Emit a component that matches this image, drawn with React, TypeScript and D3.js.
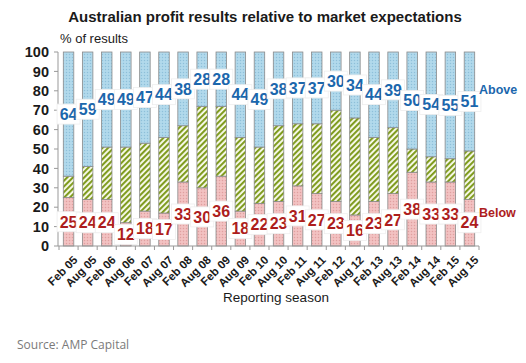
import * as d3 from "d3"

const categories = [
  "Feb 05", "Aug 05", "Feb 06", "Aug 06", "Feb 07", "Aug 07", "Feb 08", "Aug 08",
  "Feb 09", "Aug 09", "Feb 10", "Aug 10", "Feb 11", "Aug 11", "Feb 12", "Aug 12",
  "Feb 13", "Aug 13", "Feb 14", "Aug 14", "Feb 15", "Aug 15",
]
const above = [64, 59, 49, 49, 47, 44, 38, 28, 28, 44, 49, 38, 37, 37, 30, 34, 44, 39, 50, 54, 55, 51]
const below = [25, 24, 24, 12, 18, 17, 33, 30, 36, 18, 22, 23, 31, 27, 23, 16, 23, 27, 38, 33, 33, 24]
const yTicks = [0, 10, 20, 30, 40, 50, 60, 70, 80, 90, 100]

const BLUE_TEXT = "#1b67ad"
const RED_TEXT = "#ad1d1d"

export default function App() {
  const width = 526
  const height = 363

  const x = d3.scaleBand().domain(categories).range([59, 479]).paddingInner(0.45).paddingOuter(0.225)
  const y = d3.scaleLinear().domain([0, 100]).range([246, 52])
  const bw = x.bandwidth()

  const rows = categories.map((c, i) => ({
    cat: c,
    above: above[i],
    below: below[i],
    inline: 100 - above[i] - below[i],
  }))

  return (
    <svg
      width={width}
      height={height}
      style={{ position: "absolute", left: 0, top: 0, background: "#fff" }}
      fontFamily="'Liberation Sans', Arial, sans-serif"
    >
      <defs>
        <pattern id="dotsBlue" width="3" height="3" patternUnits="userSpaceOnUse">
          <rect width="3" height="3" fill="#acd6ea" />
          <rect x="0" y="0" width="1" height="1" fill="#8fbfd8" />
          <rect x="1.5" y="1.5" width="1" height="1" fill="#c4e3f1" />
        </pattern>
        <pattern id="dotsRed" width="3" height="3" patternUnits="userSpaceOnUse">
          <rect width="3" height="3" fill="#f0bcbc" />
          <rect x="0" y="0" width="1" height="1" fill="#dfa0a0" />
          <rect x="1.5" y="1.5" width="1" height="1" fill="#f8d4d4" />
        </pattern>
        <pattern id="hatchGreen" width="4" height="4" patternUnits="userSpaceOnUse" patternTransform="rotate(45)">
          <rect width="4" height="4" fill="#fbfcef" />
          <rect x="0" y="0" width="2.1" height="4" fill="#809c20" />
        </pattern>
      </defs>

      {/* title */}
      <text x={265} y={22} textAnchor="middle" fontSize={15} fontWeight="bold" fill="#1a1a1a">
        Australian profit results relative to market expectations
      </text>
      <text x={60} y={43} fontSize={13} fill="#1a1a1a">
        % of results
      </text>

      {/* y axis */}
      <line x1={58} x2={58} y1={y(100)} y2={y(0)} stroke="#999" />
      {yTicks.map((t) => (
        <g key={t}>
          <line x1={54} x2={58} y1={y(t)} y2={y(t)} stroke="#999" />
          <text x={49} y={y(t)} dy="0.36em" textAnchor="end" fontSize={14.5} fontWeight="bold" fill="#1a1a1a">
            {t}
          </text>
        </g>
      ))}

      {/* bars */}
      {rows.map((d) => {
        const bx = x(d.cat)!
        return (
          <g key={d.cat} stroke="#8a8a8a" strokeWidth={0.8}>
            <rect x={bx} y={y(d.below)} width={bw} height={y(0) - y(d.below)} fill="url(#dotsRed)" />
            <rect x={bx} y={y(d.below + d.inline)} width={bw} height={y(d.below) - y(d.below + d.inline)} fill="url(#hatchGreen)" />
            <rect x={bx} y={y(100)} width={bw} height={y(d.below + d.inline) - y(100)} fill="url(#dotsBlue)" />
          </g>
        )
      })}

      {/* x axis */}
      <line x1={58} x2={479} y1={y(0)} y2={y(0)} stroke="#999" />
      {d3.range(categories.length + 1).map((i) => {
        const tx = 59 + i * x.step()
        return <line key={i} x1={tx} x2={tx} y1={y(0)} y2={y(0) + 4} stroke="#999" />
      })}
      {rows.map((d) => {
        const cx = x(d.cat)! + bw / 2 + 4
        return (
          <text
            key={d.cat}
            transform={`translate(${cx},${y(0) + 9}) rotate(-45)`}
            textAnchor="end"
            dy="0.7em"
            fontSize={11.5}
            fontWeight="bold"
            fill="#1a1a1a"
          >
            {d.cat}
          </text>
        )
      })}
      <text x={276} y={302} textAnchor="middle" fontSize={13.5} fill="#1a1a1a">
        Reporting season
      </text>

      {/* value labels */}
      {rows.map((d) => {
        const cx = x(d.cat)! + bw / 2
        const ya = y(100 - d.above / 2)
        const yb = y(d.below / 2)
        return (
          <g key={d.cat} fontSize={16} fontWeight="bold" textAnchor="middle">
            <rect x={cx - 11.5} y={ya - 10} width={23} height={20} fill="#fff" stroke="#eee" strokeWidth={0.8} />
            <text x={cx} y={ya} dy="0.36em" fill={BLUE_TEXT}>
              {d.above}
            </text>
            <rect x={cx - 11.5} y={yb - 10} width={23} height={20} fill="#fff" stroke="#eee" strokeWidth={0.8} />
            <text x={cx} y={yb} dy="0.36em" fill={RED_TEXT}>
              {d.below}
            </text>
          </g>
        )
      })}

      <text x={479} y={94} fontSize={12.5} fontWeight="bold" fill={BLUE_TEXT}>
        Above
      </text>
      <text x={479} y={217} fontSize={12.5} fontWeight="bold" fill={RED_TEXT}>
        Below
      </text>

      <text x={17} y={349} fontSize={12} fill="#7a7a7a" fontFamily="'Open Sans', sans-serif">
        Source: AMP Capital
      </text>
    </svg>
  )
}
